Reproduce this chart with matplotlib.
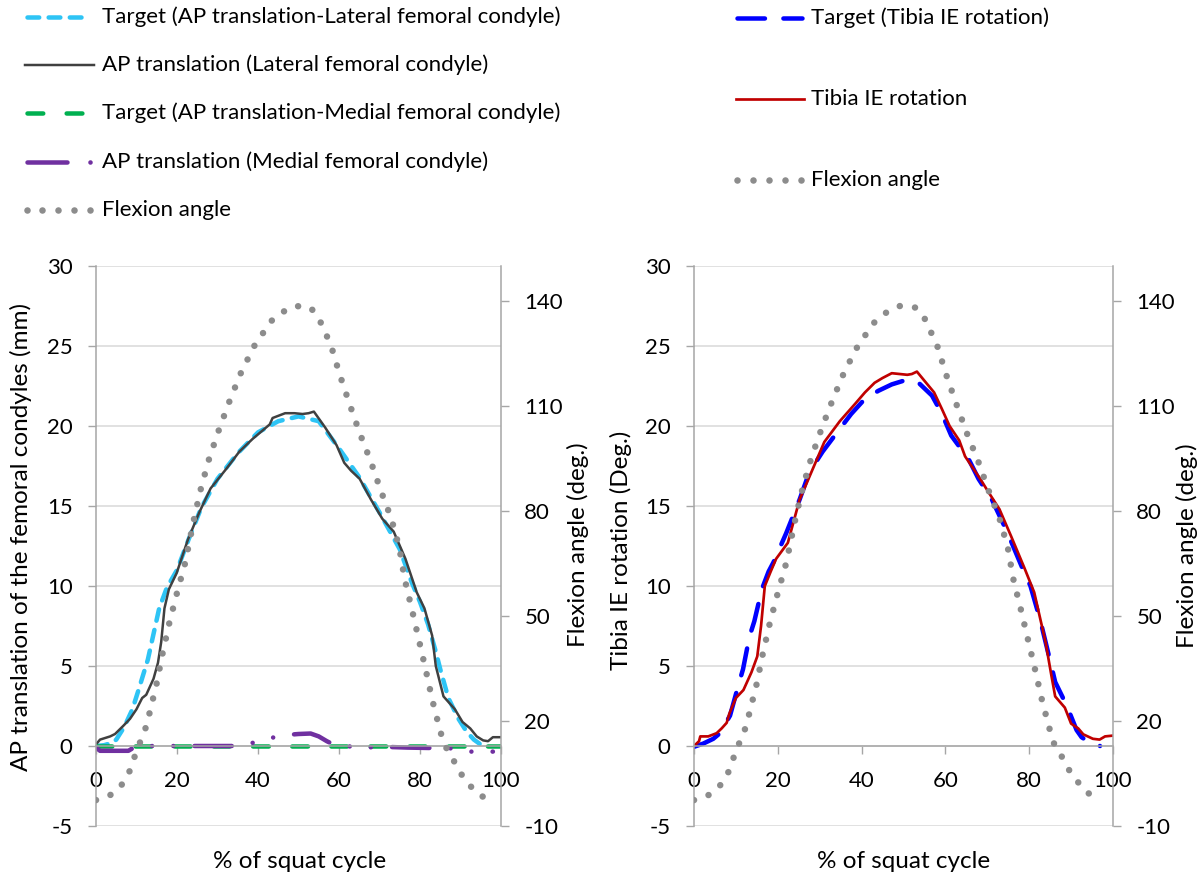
import matplotlib
matplotlib.use("Agg")
import matplotlib.pyplot as plt
from matplotlib.lines import Line2D

plt.rcParams['font.family'] = ['Lato', 'DejaVu Sans']
plt.rcParams['font.size'] = 16
plt.rcParams['axes.unicode_minus'] = False

W, H = 1203, 876

# ---- data ----
# flexion angle (deg), same curve in both panels
flex_x = [0, 3.6, 6.3, 8.2, 9.5, 10.8, 12.1, 13.1, 14.9, 16.4, 18.1, 20.0, 22.0, 24.3, 26.0,
          28.0, 30.5, 33.1, 35.9, 39.2, 43.3, 46.0, 49.2, 53.0, 55.0, 58.0, 60.2, 62.6, 65.1,
          67.8, 70.3, 72.9, 74.9, 76.2, 78.0, 79.7, 81.4, 83.1, 85.0, 86.0, 88.1, 89.7, 91.6,
          93.8, 96.9]
flex_deg = [-2.6, -1.1, 1.7, 5.4, 9.7, 13.7, 17.4, 21.7, 30.3, 39.1, 48.0, 56.6, 65.1, 78.3, 86.9,
            95.2, 103.7, 111.8, 119.8, 127.4, 134.3, 136.8, 138.6, 138.1, 135.1, 127.4, 118.9, 110.6, 102.3,
            94.3, 85.9, 77.9, 69.5, 60.6, 51.9, 43.3, 34.7, 25.7, 17.1, 13.3, 9.2, 5.6, 2.6,
            -0.4, -2.6]

# AP translation, lateral femoral condyle (mm)
lat_tgt_x = [0, 2, 4, 5, 7, 9, 10.5, 12.8, 15.6, 17.5, 20, 23, 26, 30, 35, 40, 45, 50, 55, 60,
             65, 70, 75, 78, 80, 82, 84, 85, 87, 89.5, 91.5, 93.3, 95.5]
lat_tgt_mm = [0, 0.05, 0.2, 0.4, 1.2, 2.3, 3.5, 5.4, 8.6, 9.9, 11.0, 13.0, 14.9, 16.7, 18.3, 19.6, 20.3, 20.6, 20.3, 18.6,
              16.8, 14.6, 12.3, 10.2, 9.0, 7.6, 5.8, 4.8, 3.0, 1.7, 0.9, 0.4, 0.0]
lat_x = [0, 1, 3.5, 4.7, 6.7, 8.4, 10, 11.4, 12.4, 14.2, 15.3, 16.1, 16.9, 18.0, 19.9, 22.7, 25.5,
         28.3, 32.1, 35.4, 38.7, 41.5, 42.9, 43.6, 46.7, 49, 51.0, 52.5, 53.8, 56.6, 59.4, 61.3, 63,
         65.1, 67.9, 70.7, 73.5, 76.4, 79.2, 81.1, 83.0, 83.9, 85.8, 88.6, 90.5, 92.4, 94, 95.6,
         96.8, 98.0, 100]
lat_mm = [0.1, 0.4, 0.6, 0.75, 1.25, 1.7, 2.3, 3.0, 3.2, 4.2, 5.2, 6.5, 8.6, 9.8, 10.8, 12.9, 14.6,
          16.1, 17.3, 18.4, 19.2, 19.8, 20.1, 20.5, 20.8, 20.8, 20.75, 20.8, 20.9, 19.9, 18.8, 17.7, 17.2,
          16.7, 15.4, 14.2, 13.4, 11.7, 9.6, 8.6, 6.9, 5.0, 3.1, 2.3, 1.5, 1.1, 0.6, 0.35,
          0.3, 0.55, 0.55]

# AP translation, medial femoral condyle (mm)
med_tgt_x = [0, 100]
med_tgt_mm = [0, 0]
med_x = [0, 1, 8, 9, 10, 35, 38, 41, 46, 50, 53, 55, 57, 59, 61, 64, 66, 71, 77, 88, 92, 98]
med_mm = [-0.1, -0.3, -0.3, -0.15, 0, 0, 0.15, 0.36, 0.67, 0.75, 0.78, 0.6, 0.3, 0.05, 0, -0.05,
          -0.1, -0.05, -0.1, -0.15, -0.35, -0.35]

# tibia IE rotation (deg)
ie_tgt_x = [0, 2.2, 4.6, 6.2, 6.6, 8.6, 10.7, 11.7, 13.2, 14.4, 16.2, 17.8, 19, 22, 25.2, 27.5,
            30.7, 33, 37.5, 40.8, 44, 47.2, 50.9, 53.6, 56.8, 59.1, 61.4, 65.6, 67.9, 71.1, 74.7,
            78.4, 80.3, 82.6, 85.3, 86.2, 89, 91.3, 92.5, 94.5, 96.9]
ie_tgt_deg = [-0.05, 0.15, 0.45, 0.8, 1.0, 1.9, 3.9, 4.8, 6.8, 7.8, 9.8, 10.9, 11.5, 13.3, 15.4, 17.1,
              18.4, 19.2, 20.75, 21.7, 22.2, 22.6, 22.9, 22.7, 21.9, 20.8, 19.4, 17.9, 16.7, 15.4, 13.4,
              11.1, 10.0, 7.9, 5.0, 4.0, 2.5, 1.0, 0.55, 0.2, 0.0]
ie_x = [0, 1.2, 1.5, 3.4, 5.4, 6.6, 7.8, 8.4, 10.0, 11.8, 13.7, 15.1, 16.0, 16.9, 18.3, 19.6, 22.4,
        25.2, 27.5, 31.1, 34.8, 38.5, 40.8, 43.1, 45, 47.2, 50.9, 52, 53.2, 55.4, 57.3, 59.1, 61.0,
        63.3, 64.7, 68.3, 70.2, 72.9, 75.7, 78.9, 81.2, 83.9, 85.3, 86.2, 88.5, 90, 91.7, 92.9,
        95.2, 96.8, 98.1, 100]
ie_deg = [0, 0.3, 0.6, 0.6, 0.8, 1.1, 1.45, 2.0, 3.0, 3.5, 4.6, 5.6, 7.5, 10.0, 10.9, 11.7, 12.7,
          15.4, 16.8, 19.0, 20.3, 21.4, 22.1, 22.7, 23.0, 23.3, 23.2, 23.25, 23.4, 22.7, 22.1, 21.1, 20.0,
          19.1, 18.1, 16.7, 15.9, 14.8, 13.1, 11.1, 9.6, 6.5, 4.4, 3.1, 2.4, 1.4, 1.1, 0.73,
          0.45, 0.4, 0.6, 0.65]

# ---- styles ----
AXC = '#a6a6a6'
GRID = '#d9d9d9'
GRAY = '#8c8c8c'
CYAN = '#2ec4f5'
DARK = '#404040'
GREEN = '#00b050'
PURPLE = '#7030a0'
BLUE = '#0000ff'
RED = '#c00000'
PT = 0.72  # pixels -> points at 100 dpi
TITLE_SIZE = 17.5
LEG_SIZE = 16

flex_style = dict(color=GRAY, lw=6.5 * PT, ls=(0, (0.01, 2.35)), dash_capstyle='round')
cyan_style = dict(color=CYAN, lw=4.5 * PT, ls=(0, (2.6, 2.1)), dash_capstyle='round')
dark_style = dict(color=DARK, lw=2.5 * PT)
green_style = dict(color=GREEN, lw=4.5 * PT, ls=(0, (3.5, 5.2)), dash_capstyle='round')
purple_style = dict(color=PURPLE, lw=4.5 * PT, ls=(0, (8.3, 4.7, 0.01, 4.7, 0.01, 4.7)),
                    dash_capstyle='round')
blue_style = dict(color=BLUE, lw=4.5 * PT, ls=(0, (6.1, 4.1)), dash_capstyle='round')
red_style = dict(color=RED, lw=2.7 * PT)

fig = plt.figure(figsize=(W / 100, H / 100), dpi=100)


def make_panel(left_px, right_px):
    rect = [left_px / W, (H - 826) / H, (right_px - left_px) / W, (826 - 266) / H]
    ax = fig.add_axes(rect)
    ax.set_xlim(0, 100)
    ax.set_ylim(-5, 30)
    ax.set_xticks(range(0, 101, 20))
    ax.set_yticks(range(-5, 31, 5))
    ax.grid(axis='y', color=GRID, lw=1.1)
    ax.set_axisbelow(True)
    ax.spines['top'].set_visible(False)
    ax.spines['right'].set_visible(False)
    ax.spines['bottom'].set_position(('data', 0))
    for s in ('left', 'bottom'):
        ax.spines[s].set_color(AXC)
        ax.spines[s].set_linewidth(1.1)
    ax.tick_params(axis='y', direction='out', length=5.8, width=1, color=AXC, pad=11)
    ax.tick_params(axis='x', direction='out', length=5.8, width=1, color=AXC, pad=12)

    ax2 = ax.twinx()
    ax2.set_ylim(-10, 150)
    ax2.set_yticks(range(-10, 141, 30))
    for s in ('left', 'top', 'bottom'):
        ax2.spines[s].set_visible(False)
    ax2.spines['right'].set_color(AXC)
    ax2.spines['right'].set_linewidth(1.1)
    ax2.tick_params(axis='y', direction='out', length=5.8, width=1, color=AXC, pad=11)
    return ax, ax2


# left panel
axL, axL2 = make_panel(96, 501)
axL.plot(lat_tgt_x, lat_tgt_mm, **cyan_style)
axL.plot(lat_x, lat_mm, **dark_style)
axL.plot(med_tgt_x, med_tgt_mm, **green_style)
axL.plot(med_x, med_mm, **purple_style)
axL2.plot(flex_x, flex_deg, **flex_style)

# right panel
axR, axR2 = make_panel(694, 1113)
axR.plot(ie_tgt_x, ie_tgt_deg, **blue_style)
axR.plot(ie_x, ie_deg, **red_style)
axR2.plot(flex_x, flex_deg, **flex_style)


# axis titles
def ftext(x, y, s, **kw):
    fig.text(x / W, 1 - y / H, s, ha='center', va='center', fontsize=TITLE_SIZE, **kw)


ftext(21, 537, 'AP translation of the femoral condyles (mm)', rotation=90)
ftext(578, 545, 'Flexion angle (deg.)', rotation=90)
ftext(621, 550, 'Tibia IE rotation (Deg.)', rotation=90)
ftext(1187, 546, 'Flexion angle (deg.)', rotation=90)
ftext(300, 862, '% of squat cycle')
ftext(904, 862, '% of squat cycle')


# legends
def leg_line(x0, x1, y, **style):
    fig.add_artist(Line2D([x0 / W, x1 / W], [1 - y / H] * 2, transform=fig.transFigure, **style))


def leg_dots(xs, y, **kw):
    fig.add_artist(Line2D([x / W for x in xs], [1 - y / H] * len(xs), transform=fig.transFigure,
                          ls='none', marker='o', **kw))


def leg_text(x, y, s):
    fig.text(x / W, 1 - y / H, s, ha='left', va='center', fontsize=LEG_SIZE)


leg_line(27, 85, 17, **cyan_style)
leg_text(102, 17, 'Target (AP translation-Lateral femoral condyle)')
leg_line(25, 94, 65, **dark_style)
leg_text(102, 65, 'AP translation (Lateral femoral condyle)')
leg_line(27, 85, 113, **green_style)
leg_text(102, 113, 'Target (AP translation-Medial femoral condyle)')
leg_line(27, 67, 162, color=PURPLE, lw=4.5 * PT, solid_capstyle='round')
leg_dots([90], 162, color=PURPLE, markersize=4.5 * PT, markeredgewidth=0)
leg_text(102, 162, 'AP translation (Medial femoral condyle)')
leg_dots([27, 42, 58, 74, 90], 210, color=GRAY, markersize=6.5 * PT, markeredgewidth=0)
leg_text(102, 210, 'Flexion angle')

leg_line(737, 802, 18, **blue_style)
leg_text(811, 18, 'Target (Tibia IE rotation)')
leg_line(736, 804, 99, **red_style)
leg_text(811, 99, 'Tibia IE rotation')
leg_dots([737, 753, 769, 785, 801], 180, color=GRAY, markersize=6.5 * PT, markeredgewidth=0)
leg_text(811, 180, 'Flexion angle')

fig.savefig('out.png', dpi=100)
